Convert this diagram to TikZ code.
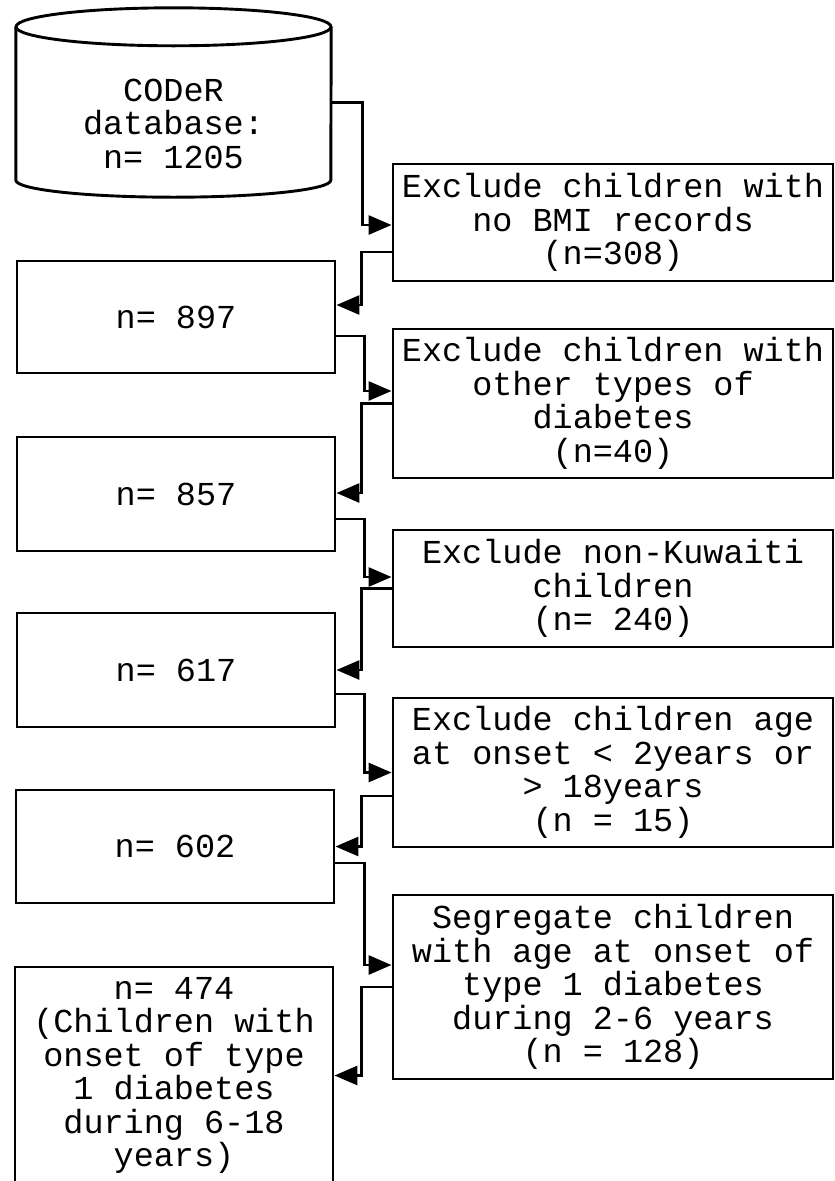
\documentclass[tikz,border=0pt]{standalone}
\usepackage{fontspec}
\setmonofont{Liberation Mono}
\usetikzlibrary{arrows.meta}
\begin{document}
\begin{tikzpicture}[x=1pt,y=1pt,
  every node/.style={font=\ttfamily\fontsize{33.5}{33.5}\selectfont,
                     align=center, inner sep=0pt},
  outline/.style={line width=2.9pt, line join=miter},
  leftbox/.style={draw, outline, rectangle, minimum width=318pt},
  rightbox/.style={draw, outline, rectangle, minimum width=440pt},
  flow/.style={line width=2.9pt, -{Triangle[length=23pt,width=19pt]}}]

\useasboundingbox (0,0) rectangle (835,-1181);

% database cylinder
\node[minimum width=315pt, minimum height=189pt] (db) at (173.5,-102.5) {};
\draw[outline] ([yshift=-19pt]db.north west) -- ([yshift=17pt]db.south west)
  arc[start angle=180, end angle=360, x radius=157.5pt, y radius=17pt]
  -- ([yshift=-19pt]db.north east);
\draw[outline] ([yshift=-19pt]db.north) ellipse [x radius=157.5pt, y radius=19pt];
\node (dbtext) at (173.5,-123.5) {CODeR\\database:\\n= 1205};

% remaining counts
\node[leftbox, minimum height=112pt] (n897) at (176,-317) {n= 897};
\node[leftbox, minimum height=114pt] (n857) at (176,-494) {n= 857};
\node[leftbox, minimum height=114pt] (n617) at (176,-670) {n= 617};
\node[leftbox, minimum height=113pt] (n602) at (175,-846.5) {n= 602};
\node[leftbox, minimum height=217pt] (n474) at (174,-1075.5)
  {n= 474\\(Children with\\onset of type\\1 diabetes\\during 6-18\\years)};

% exclusion steps
\node[rightbox, minimum height=117pt] (ex1) at (613,-222.5)
  {Exclude children with\\no BMI records\\(n=308)};
\node[rightbox, minimum height=149pt] (ex2) at (613,-403.5)
  {Exclude children with\\other types of\\diabetes\\(n=40)};
\node[rightbox, minimum height=117pt] (ex3) at (613,-588.5)
  {Exclude non-Kuwaiti\\children\\(n= 240)};
\node[rightbox, minimum height=149pt] (ex4) at (613,-772.5)
  {Exclude children age\\at onset < 2years or\\> 18years\\(n = 15)};
\node[rightbox, minimum height=184pt] (ex5) at (613,-987)
  {Segregate children\\with age at onset of\\type 1 diabetes\\during 2-6 years\\(n = 128)};

% connectors
\draw[flow] (db.east) -- ++(31,0) |- ([yshift=-2.5pt]ex1.west);
\draw[flow] ([yshift=-29.5pt]ex1.west) -- ++(-30,0) |- ([yshift=12pt]n897.east);
\draw[flow] ([yshift=-19pt]n897.east) -- ++(28,0) |- ([yshift=12.5pt]ex2.west);
\draw[flow] (ex2.west) -- ++(-30,0) |- ([yshift=1pt]n857.east);
\draw[flow] ([yshift=-25pt]n857.east) -- ++(28,0) |- ([yshift=11.5pt]ex3.west);
\draw[flow] (ex3.west) -- ++(-30,0) |- (n617.east);
\draw[flow] ([yshift=-24pt]n617.east) -- ++(28,0) |- (ex4.west);
\draw[flow] ([yshift=-23.5pt]ex4.west) -- ++(-30,0) |- (n602.east);
\draw[flow] ([yshift=-16.5pt]n602.east) -- ++(29,0) |- ([yshift=22pt]ex5.west);
\draw[flow] (ex5.west) -- ++(-30,0) |- (n474.east);
\end{tikzpicture}
\end{document}
